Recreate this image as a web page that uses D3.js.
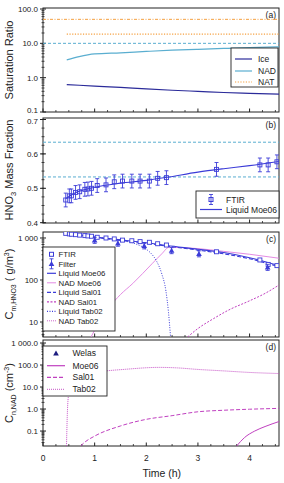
<!DOCTYPE html>
<html><head>
<meta charset="utf-8">
<script src="https://d3js.org/d3.v7.min.js"></script>
<style>
  body { margin: 0; background: #fff; }
  svg text { font-family: "Liberation Sans", Arial, sans-serif; }
</style>
</head>
<body>
<svg id="chart" width="284" height="483"></svg>
<script>
// ---- data ----
// panel (a) saturation ratios
const iceSat = [[0.46,0.63],[1,0.57],[1.5,0.52],[2,0.47],[2.5,0.43],[3,0.40],[3.5,0.37],[4,0.35],[4.57,0.33]];
const nadSat = [[0.46,3.3],[0.7,4.1],[1,4.9],[1.5,5.3],[2,5.8],[2.5,6.3],[3,6.7],[3.5,7.1],[4,7.5],[4.57,7.9]];
const natSat = [[0.46,18.5],[4.57,18.5]];
const natRef = 50;   // upper dash-dot line
const nadRef = 10;   // dashed line

// panel (b) HNO3 mass fraction
const ftirTime = [0.44,0.51,0.55,0.63,0.71,0.81,0.87,0.94,1.05,1.22,1.38,1.54,1.72,1.88,2.06,2.22,2.39,3.36,4.2,4.36,4.53];
const ftirFrac = [0.466,0.478,0.478,0.488,0.49,0.497,0.498,0.5,0.508,0.51,0.519,0.521,0.521,0.521,0.521,0.529,0.531,0.555,0.568,0.568,0.577];
const fracErr = 0.02;
const liqFrac = [[0.44,0.47],[0.6,0.485],[1,0.503],[1.5,0.515],[2,0.523],[2.4,0.532],[3,0.547],[3.5,0.557],[4,0.566],[4.57,0.578]];
const compLines = [0.634, 0.533];

// panel (c) HNO3 mass concentration
const ftirConc = [1290,1250,1230,1200,1170,1140,1120,1100,1040,1000,950,890,860,820,790,730,680,470,300,235,220];
const filterTime = [1.0,1.45,1.96,2.49,3.02,4.35];
const filterConc = [880,750,650,500,420,200];
const liqMoe = [[0.42,1300],[1,1060],[1.5,900],[2,770],[2.4,660],[3,540],[3.5,450],[4,340],[4.57,220]];
const liqSal = [[0.42,1290],[1,1040],[1.5,880],[2,750],[2.4,640],[3,515],[3.5,420],[4,320],[4.57,205]];
const liqTab = [[0.42,1300],[1,1050],[1.5,880],[1.8,720],[2.0,540],[2.1,420],[2.2,280],[2.3,140],[2.38,55],[2.43,17],[2.47,4.4]];
const nadMoe = [[0.93,4.4],[1.0,6.4],[1.29,23],[1.5,45],[1.74,83],[2.12,250],[2.3,420],[2.44,600],[3,560],[3.5,480],[4,410],[4.57,330]];
const nadSal = [[2.8,4.4],[3.0,7],[3.3,12],[3.6,19.4],[4.0,32],[4.3,48],[4.57,76]];

// panel (d) NAD number concentration
const dMoe = [[3.75,0.021],[3.9,0.05],[4.1,0.1],[4.3,0.16],[4.57,0.27]];
const dSal = [[0.73,0.021],[0.8,0.03],[1.0,0.059],[1.5,0.17],[2,0.34],[2.5,0.5],[3,0.75],[3.5,0.88],[4,0.98],[4.57,1.07]];
const dTab = [[0.455,0.021],[0.47,0.5],[0.49,3.6],[0.55,15],[0.7,30],[1.1,49],[1.6,64],[2.25,78],[2.6,74],[3.0,63],[3.5,54],[4.0,46],[4.57,41]];

const xTicks = [0,1,2,3,4];

// ---- layout ----
const svg = d3.select("#chart");
const left = 43, right = 279;
const x = d3.scaleLinear().domain([0, 4.57]).range([left, right]);

const blue = "#3c3cd8", navy = "#2b2b9a", light = "#5aaed0", orange = "#f5a040",
      pink = "#e07ee0", magenta = "#c040c0";

function panel(top, bottom, yScale, yTicks, fmt, minorTicks, label, nudge) {
  const g = svg.append("g");
  // frame
  g.append("rect").attr("x", left).attr("y", top).attr("width", right - left)
    .attr("height", bottom - top).attr("fill", "none").attr("stroke", "#222").attr("stroke-width", 1);
  // y ticks
  minorTicks.forEach(v => {
    const yy = yScale(v);
    if (yy < top || yy > bottom) return;
    g.append("line").attr("x1", left - 1.5).attr("x2", left + 1.5).attr("y1", yy).attr("y2", yy)
      .attr("stroke", "#222").attr("stroke-width", 0.8);
  });
  yTicks.forEach((v, i) => {
    const yy = yScale(v);
    g.append("line").attr("x1", left - 3).attr("x2", left + 3).attr("y1", yy).attr("y2", yy)
      .attr("stroke", "#222");
    const dy = (nudge && nudge[i]) || 0;
    g.append("text").attr("x", left - 5).attr("y", yy + 3 + dy).attr("text-anchor", "end")
      .attr("font-size", 8).attr("fill", "#222").text(fmt[i]);
  });
  // x ticks (inward)
  d3.range(0, 4.51, 0.25).forEach(v => {
    const major = Math.abs(v - Math.round(v)) < 1e-6;
    g.append("line").attr("x1", x(v)).attr("x2", x(v)).attr("y1", bottom).attr("y2", bottom - (major ? 3.5 : 2))
      .attr("stroke", "#222").attr("stroke-width", major ? 1 : 0.8);
  });
  g.append("text").attr("x", right - 3).attr("y", top + 10).attr("text-anchor", "end")
    .attr("font-size", 8.5).attr("fill", "#222").text(label);
  const clipId = "clip" + label.replace(/\W/g, "");
  svg.append("clipPath").attr("id", clipId).append("rect")
    .attr("x", left).attr("y", top).attr("width", right - left).attr("height", bottom - top);
  const inner = svg.append("g").attr("clip-path", "url(#" + clipId + ")");
  return inner;
}

function logMinor(lo, hi) {
  const out = [];
  for (let e = lo; e < hi; e++) for (let k = 2; k <= 9; k++) out.push(k * Math.pow(10, e));
  return out;
}

function drawLine(g, yScale, pts, color, dash, width) {
  const line = d3.line().x(d => x(d[0])).y(d => yScale(d[1])).curve(d3.curveMonotoneX);
  g.append("path").datum(pts).attr("d", line).attr("fill", "none").attr("stroke", color)
    .attr("stroke-width", width || 1).attr("stroke-dasharray", dash || null);
}

// ---- panel (a) ----
const yA = d3.scaleLog().domain([0.1, 100]).range([112, 9]);
const gA = panel(8, 112, yA, [100, 10, 1, 0.1], ["100.0", "10.0", "1.0", "0.1"], logMinor(-1, 2), "(a)", [0, 0, 0, -2]);
drawLine(gA, yA, [[0, natRef], [4.57, natRef]], orange, "3,1.5,1,1.5", 1);
drawLine(gA, yA, natSat, orange, "1.2,1.5", 1.2);
drawLine(gA, yA, [[0, nadRef], [4.57, nadRef]], light, "3,2", 1);
drawLine(gA, yA, nadSat, light, null, 1.2);
drawLine(gA, yA, iceSat, navy, null, 1.2);

function legend(x0, y0, w, h, items, fontSize) {
  const g = svg.append("g");
  g.append("rect").attr("x", x0).attr("y", y0).attr("width", w).attr("height", h)
    .attr("fill", "#fff").attr("stroke", "#222").attr("stroke-width", 0.9);
  items.forEach(it => {
    if (it.line) {
      g.append("line").attr("x1", it.lx0).attr("x2", it.lx1).attr("y1", it.y).attr("y2", it.y)
        .attr("stroke", it.color).attr("stroke-width", it.width || 1.2).attr("stroke-dasharray", it.dash || null);
    }
    if (it.marker === "square") {
      const cx = (it.lx0 + it.lx1) / 2;
      g.append("rect").attr("x", cx - 2).attr("y", it.y - 2).attr("width", 4).attr("height", 4)
        .attr("fill", "none").attr("stroke", it.color);
      if (it.err) errBar(g, cx, it.y - 5, it.y + 5, it.color, 2);
    }
    if (it.marker === "triangle") {
      const cx = (it.lx0 + it.lx1) / 2;
      if (it.err) errBar(g, cx, it.y - 5, it.y + 5, it.color, 2);
      g.append("path").attr("d", d3.symbol(d3.symbolTriangle, 14)()).attr("transform", `translate(${cx},${it.y + 0.5})`)
        .attr("fill", it.color);
    }
    g.append("text").attr("x", it.tx).attr("y", it.y + 3).attr("font-size", fontSize)
      .attr("fill", "#222").text(it.label);
  });
}

function errBar(g, cx, y1, y2, color, cap) {
  g.append("line").attr("x1", cx).attr("x2", cx).attr("y1", y1).attr("y2", y2).attr("stroke", color).attr("stroke-width", 0.9);
  g.append("line").attr("x1", cx - cap).attr("x2", cx + cap).attr("y1", y1).attr("y2", y1).attr("stroke", color).attr("stroke-width", 0.9);
  g.append("line").attr("x1", cx - cap).attr("x2", cx + cap).attr("y1", y2).attr("y2", y2).attr("stroke", color).attr("stroke-width", 0.9);
}

legend(231, 48, 47, 39, [
  {label: "Ice", y: 59, color: navy, line: true, lx0: 235, lx1: 252, tx: 258},
  {label: "NAD", y: 71, color: light, line: true, lx0: 235, lx1: 252, tx: 258},
  {label: "NAT", y: 82, color: orange, line: true, dash: "1.2,1.5", lx0: 235, lx1: 252, tx: 258}
], 8.5);

// ---- panel (b) ----
const yB = d3.scaleLinear().domain([0.4, 0.7]).range([222.7, 119.5]);
const gB = panel(118, 223, yB, [0.7, 0.6, 0.5, 0.4], ["0.7", "0.6", "0.5", "0.4"], d3.range(0.4, 0.701, 0.025), "(b)", [1.5, 0, 0, 0]);
compLines.forEach(v => drawLine(gB, yB, [[0, v], [4.57, v]], light, "3,2", 1));
drawLine(gB, yB, liqFrac, blue, null, 1.1);
ftirTime.forEach((t, i) => {
  errBar(gB, x(t), yB(ftirFrac[i] + fracErr), yB(ftirFrac[i] - fracErr), blue, 2);
  gB.append("rect").attr("x", x(t) - 2).attr("y", yB(ftirFrac[i]) - 2).attr("width", 4).attr("height", 4)
    .attr("fill", "none").attr("stroke", blue).attr("stroke-width", 0.9);
});
legend(196, 191, 83, 27, [
  {label: "FTIR", y: 199.5, color: blue, marker: "square", err: true, lx0: 200, lx1: 222, tx: 226},
  {label: "Liquid Moe06", y: 209.5, color: blue, line: true, lx0: 200, lx1: 222, tx: 226}
], 8.5);

// ---- panel (c) ----
const yC = d3.scaleLog().domain([4.4, 1389]).range([337, 232]);
const gC = panel(232, 337, yC, [1000, 100, 10], ["1 000", "100", "10"], logMinor(0, 3), "(c)");
drawLine(gC, yC, nadSal, magenta, "2,1.5", 1);
drawLine(gC, yC, nadMoe, pink, null, 0.9);
drawLine(gC, yC, liqTab, blue, "1,1.5", 1);
drawLine(gC, yC, liqSal, blue, "4,2", 1.1);
drawLine(gC, yC, liqMoe, blue, null, 1.1);
ftirTime.forEach((t, i) => {
  gC.append("rect").attr("x", x(t) - 2).attr("y", yC(ftirConc[i]) - 2).attr("width", 4).attr("height", 4)
    .attr("fill", "#fff").attr("stroke", blue).attr("stroke-width", 0.9);
});
filterTime.forEach((t, i) => {
  errBar(gC, x(t), yC(filterConc[i] * 1.18), yC(filterConc[i] / 1.18), blue, 2);
  gC.append("path").attr("d", d3.symbol(d3.symbolTriangle, 14)())
    .attr("transform", `translate(${x(t)},${yC(filterConc[i]) + 0.5})`).attr("fill", blue);
});
const lc = [
  {label: "FTIR", marker: "square", color: blue},
  {label: "Filter", marker: "triangle", err: true, color: blue},
  {label: "Liquid Moe06", line: true, color: blue},
  {label: "NAD Moe06", line: true, color: pink, width: 0.9},
  {label: "Liquid Sal01", line: true, color: blue, dash: "4,2"},
  {label: "NAD Sal01", line: true, color: magenta, dash: "2,1.5"},
  {label: "Liquid Tab02", line: true, color: blue, dash: "1,1.5"},
  {label: "NAD Tab02", line: true, color: magenta, dash: "1,1", width: 0.8}
];
lc.forEach((it, i) => { it.y = 254.3 + i * 9.5; it.lx0 = 47; it.lx1 = 56; it.tx = 58.5; });
legend(43, 247, 72, 84, lc, 7.8);

// ---- panel (d) ----
const yD = d3.scaleLog().domain([0.0209, 1369]).range([446, 340]);
const gD = panel(340, 446, yD, [1000, 100, 10, 1, 0.1], ["1 000.0", "100.0", "10.0", "1.0", "0.1"], logMinor(-2, 3), "(d)");
drawLine(gD, yD, dTab, magenta, "1,1", 0.9);
drawLine(gD, yD, dSal, magenta, "4,2", 1);
drawLine(gD, yD, dMoe, magenta, null, 1);
legend(43, 346, 64, 50, [
  {label: "Welas", y: 353.3, color: "#1d1d80", marker: "triangle", lx0: 47, lx1: 65, tx: 72.5},
  {label: "Moe06", y: 365.7, color: magenta, line: true, lx0: 47, lx1: 65, tx: 72.5},
  {label: "Sal01", y: 377.3, color: magenta, line: true, dash: "4,2", lx0: 47, lx1: 65, tx: 72.5},
  {label: "Tab02", y: 389.3, color: magenta, line: true, dash: "1,1", width: 0.9, lx0: 47, lx1: 65, tx: 72.5}
], 8.5);

// x tick labels and title
xTicks.forEach(v => {
  svg.append("text").attr("x", x(v)).attr("y", 461).attr("text-anchor", "middle")
    .attr("font-size", 8.5).attr("fill", "#222").text(v);
});
svg.append("text").attr("x", x(2.3)).attr("y", 477).attr("text-anchor", "middle")
  .attr("font-size", 10.5).attr("fill", "#222").text("Time (h)");

// y titles
function yTitle(cy, build) {
  const t = svg.append("text").attr("transform", `translate(13,${cy}) rotate(-90)`)
    .attr("text-anchor", "middle").attr("font-size", 11).attr("fill", "#222");
  build(t);
}
yTitle(60, t => t.text("Saturation Ratio"));
yTitle(170, t => {
  t.append("tspan").text("HNO");
  t.append("tspan").attr("font-size", 7.5).attr("dy", 3).text("3");
  t.append("tspan").attr("dy", -3).text(" Mass Fraction");
});
yTitle(284, t => {
  t.append("tspan").text("C");
  t.append("tspan").attr("font-size", 7).attr("dy", 3).text("m,HNO3");
  t.append("tspan").attr("dy", -3).text(" (  g/m");
  t.append("tspan").attr("font-size", 7).attr("dy", -4).text("3");
  t.append("tspan").attr("dy", 4).text(")");
});
yTitle(393, t => {
  t.append("tspan").text("C");
  t.append("tspan").attr("font-size", 7).attr("dy", 3).text("n,NAD");
  t.append("tspan").attr("dy", -3).text(" (cm");
  t.append("tspan").attr("font-size", 7).attr("dy", -4).text("-3");
  t.append("tspan").attr("dy", 4).text(")");
});
</script>
</body>
</html>
